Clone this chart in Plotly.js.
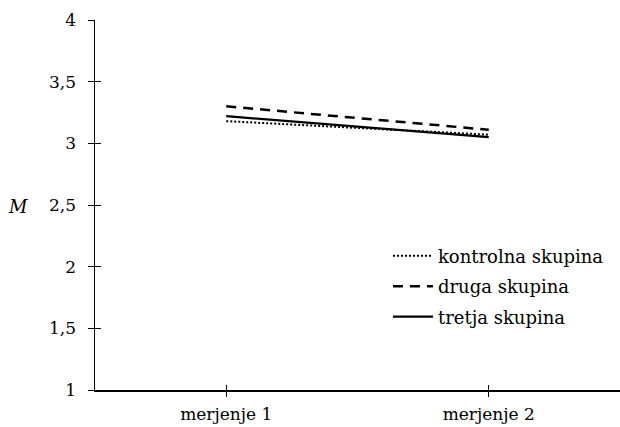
<!DOCTYPE html>
<html>
<head>
<meta charset="utf-8">
<script src="https://cdn.plot.ly/plotly-3.0.1.min.js"></script>
<style>html,body{margin:0;padding:0;background:#fff;}#chart{width:620px;height:427px;}</style>
</head>
<body>
<div id="chart"></div>
<script>
var categories = ['merjenje 1', 'merjenje 2'];
var seriesNames = ['kontrolna skupina', 'druga skupina', 'tretja skupina'];
var kontrolna = [3.18, 3.07];
var druga = [3.30, 3.11];
var tretja = [3.22, 3.05];
var yTickVals = [1, 1.5, 2, 2.5, 3, 3.5, 4];

var FONT = 'DejaVu Serif';
var FS = 17;
var traces = [
  {x: categories, y: kontrolna, name: seriesNames[0], legendgroup: 'a', type: 'scatter', mode: 'lines',
   line: {color: '#000', width: 2, dash: '2px,2px'}},
  {x: categories, y: druga, name: seriesNames[1], legendgroup: 'b', type: 'scatter', mode: 'lines',
   line: {color: '#000', width: 2.5, dash: '10px,7px'}},
  {x: categories, y: tretja, name: seriesNames[2], legendgroup: 'c', type: 'scatter', mode: 'lines',
   line: {color: '#000', width: 2.2}},
  // carrier for the inner half of the crossing tick marks (no data drawn)
  {x: categories, y: [null, null], xaxis: 'x2', yaxis: 'y2', type: 'scatter', mode: 'lines',
   showlegend: false, hoverinfo: 'skip'}
];

var layout = {
  width: 620, height: 427,
  margin: {l: 95, r: 0, t: 20, b: 37},
  paper_bgcolor: '#fff', plot_bgcolor: '#fff',
  separators: ',.',
  font: {family: FONT, size: FS, color: '#000'},
  showlegend: true,
  legend: {x: 0.558, y: 0.412, xanchor: 'left', yanchor: 'top', bgcolor: 'rgba(0,0,0,0)',
           itemwidth: 40, font: {family: FONT, size: 18, color: '#000'},
           traceorder: 'grouped', tracegroupgap: 4},
  xaxis: {type: 'category', range: [-0.5, 1.5], showgrid: false, zeroline: false,
          showline: true, linecolor: '#000', linewidth: 1.5,
          ticks: 'outside', ticklen: 5, tickcolor: '#000', tickwidth: 1,
          ticklabelstandoff: 3, fixedrange: true},
  yaxis: {range: [1, 4], tickvals: yTickVals, showgrid: false, zeroline: false,
          showline: true, linecolor: '#000', linewidth: 1.5,
          ticks: 'outside', ticklen: 6, tickcolor: '#000', tickwidth: 1,
          ticklabelstandoff: 8, fixedrange: true},
  xaxis2: {overlaying: 'x', anchor: 'y2', type: 'category', range: [-0.5, 1.5],
           showgrid: false, zeroline: false, showline: false, showticklabels: false,
           ticks: 'inside', ticklen: 5, tickcolor: '#000', tickwidth: 1, side: 'bottom'},
  yaxis2: {overlaying: 'y', anchor: 'x2', range: [1, 4], tickvals: yTickVals,
           showgrid: false, zeroline: false, showline: false, showticklabels: false,
           ticks: 'inside', ticklen: 6, tickcolor: '#000', tickwidth: 1, side: 'left'},
  annotations: [{text: '<i>M</i>', xref: 'paper', yref: 'paper', x: -0.147, y: 0.497,
                 xanchor: 'center', yanchor: 'middle', showarrow: false,
                 font: {family: FONT, size: 18, color: '#000'}}]
};

Plotly.newPlot('chart', traces, layout, {displayModeBar: false, staticPlot: true});
</script>
</body>
</html>
